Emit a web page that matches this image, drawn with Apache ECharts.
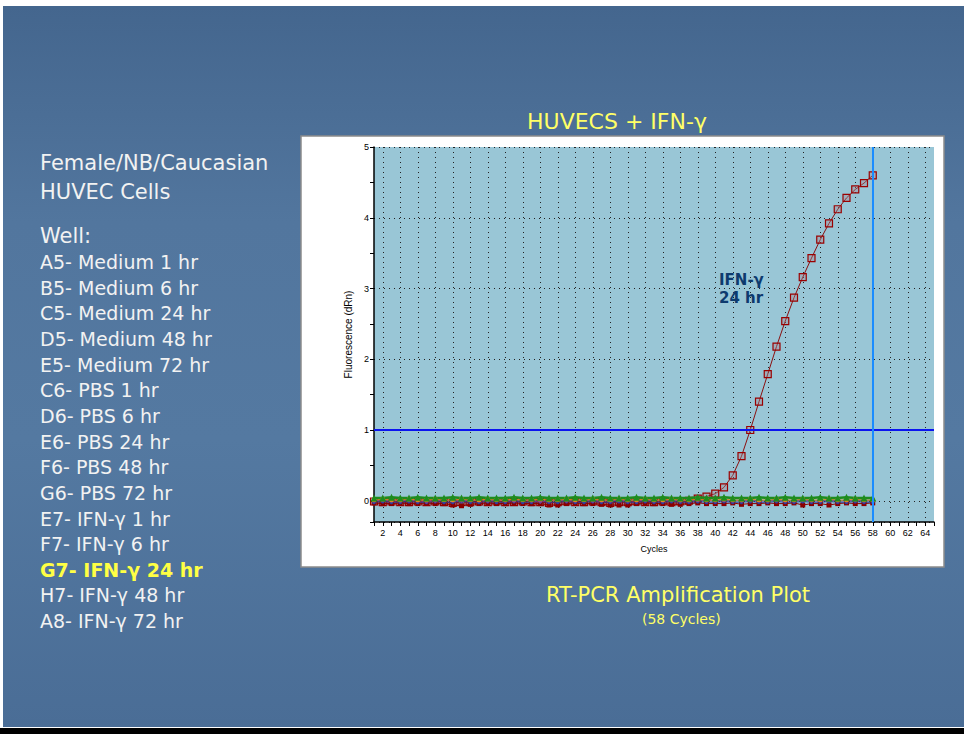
<!DOCTYPE html>
<html>
<head>
<meta charset="utf-8">
<script src="https://cdn.jsdelivr.net/npm/echarts@6/dist/echarts.min.js"></script>
<style>
html,body{margin:0;padding:0;background:#fff;}
#chart{width:964px;height:734px;}
</style>
</head>
<body>
<div id="chart"></div>
<script>
// ---------- data ----------
var cycles = [1,2,3,4,5,6,7,8,9,10,11,12,13,14,15,16,17,18,19,20,21,22,23,24,25,26,27,28,29,30,31,32,33,34,35,36,37,38,39,40,41,42,43,44,45,46,47,48,49,50,51,52,53,54,55,56,57,58];

// G7 - IFN-γ 24 hr (amplifying well)
var g7Values = [
  -0.01,-0.02,-0.01,-0.02,-0.02,-0.01,-0.02,-0.01,-0.02,-0.03,
  -0.02,-0.02,-0.01,-0.02,-0.01,-0.02,-0.02,-0.01,-0.02,-0.02,
  -0.03,-0.02,-0.01,-0.02,-0.02,-0.01,-0.02,-0.03,-0.02,-0.02,
  -0.01,-0.02,-0.02,-0.01,-0.02,-0.01,0.00,0.03,0.06,0.10,
  0.19,0.36,0.63,1.00,1.40,1.79,2.18,2.54,2.87,3.16,
  3.43,3.69,3.92,4.12,4.28,4.40,4.49,4.60
];
// other wells (baseline, no amplification)
var greenValues = [
  0.04,0.04,0.05,0.04,0.04,0.05,0.04,0.04,0.04,0.05,
  0.04,0.04,0.05,0.04,0.04,0.04,0.05,0.04,0.04,0.05,
  0.04,0.04,0.04,0.05,0.04,0.04,0.05,0.04,0.04,0.04,
  0.05,0.04,0.04,0.05,0.04,0.04,0.04,0.05,0.04,0.04,
  0.05,0.04,0.04,0.04,0.05,0.04,0.04,0.05,0.04,0.04,
  0.04,0.05,0.04,0.04,0.05,0.04,0.04,0.04
];
var darkRedValues = [
  -0.03,-0.04,-0.04,-0.03,-0.04,-0.04,-0.03,-0.04,-0.04,-0.06,
  -0.07,-0.05,-0.04,-0.03,-0.04,-0.04,-0.03,-0.04,-0.04,-0.04,
  -0.06,-0.06,-0.04,-0.03,-0.04,-0.04,-0.05,-0.06,-0.06,-0.06,
  -0.04,-0.03,-0.04,-0.04,-0.05,-0.05,-0.04,-0.03,-0.04,-0.04,
  -0.04,-0.03,-0.05,-0.04,-0.04,-0.03,-0.04,-0.04,-0.03,-0.06,
  -0.04,-0.04,-0.06,-0.04,-0.03,-0.04,-0.04,-0.03
];
var purpleValues = [
  0.00,0.01,0.00,0.00,0.01,0.00,-0.01,0.00,0.01,0.00,
  0.00,0.01,0.00,0.00,0.01,0.00,0.00,0.01,0.00,-0.01,
  0.00,0.01,0.00,0.00,0.01,0.00,0.00,0.00,0.01,0.00,
  0.00,0.01,0.00,0.00,0.01,0.00,0.00,0.01,0.00,0.00,
  0.01,0.00,0.00,0.01,0.00,0.00,0.01,0.00,0.00,0.01,
  0.00,0.00,0.01,0.00,0.00,0.01,0.00,0.00
];
var blueValues = [
  -0.02,-0.01,-0.02,-0.02,-0.01,-0.02,-0.02,-0.01,-0.02,-0.02,
  -0.01,-0.02,-0.02,-0.01,-0.02,-0.02,-0.01,-0.02,-0.02,-0.01,
  -0.02,-0.02,-0.01,-0.02,-0.02,-0.01,-0.02,-0.02,-0.01,-0.02,
  -0.02,-0.01,-0.02,-0.02,-0.01,-0.02,-0.02,-0.01,-0.02,-0.02,
  -0.01,-0.02,-0.02,-0.01,-0.02,-0.02,-0.01,-0.02,-0.02,-0.01,
  -0.02,-0.02,-0.01,-0.02,-0.02,-0.01,-0.02,-0.02
];
var orangeValues = [
  0.01,0.02,0.01,0.01,0.02,0.01,0.01,0.02,0.01,0.01,
  0.02,0.01,0.01,0.02,0.01,0.01,0.02,0.01,0.01,0.02,
  0.01,0.01,0.02,0.01,0.01,0.02,0.01,0.01,0.02,0.01,
  0.01,0.02,0.01,0.01,0.02,0.01,0.01,0.02,0.01,0.01,
  0.02,0.01,0.01,0.02,0.01,0.01,0.02,0.01,0.01,0.02,
  0.01,0.01,0.02,0.01,0.01,0.02,0.01,0.01
];
var threshold = 1;
var cutoffCycle = 58;
var xMin = 1, xMax = 65, yMin = -0.3, yMax = 5;

var headerLines = ['Female/NB/Caucasian', 'HUVEC Cells'];
var wellTitle = 'Well:';
var wells = ['A5- Medium 1 hr','B5- Medium 6 hr','C5- Medium 24 hr','D5- Medium 48 hr','E5- Medium 72 hr',
  'C6- PBS 1 hr','D6- PBS 6 hr','E6- PBS 24 hr','F6- PBS 48 hr','G6- PBS 72 hr',
  'E7- IFN-γ 1 hr','F7- IFN-γ 6 hr','G7- IFN-γ 24 hr','H7- IFN-γ 48 hr','A8- IFN-γ 72 hr'];
var highlightWell = 'G7- IFN-γ 24 hr';
var chartTitle = 'HUVECS + IFN-γ';
var subTitle = 'RT-PCR Amplification Plot';
var subTitle2 = '(58 Cycles)';
var annotation = 'IFN-γ\n24 hr';
var yName = 'Fluorescence (dRn)';
var xName = 'Cycles';

// ---------- chart ----------
function pairs(vals){ return cycles.map(function(c,i){ return [c, vals[i]]; }); }

var FONT = '"DejaVu Sans", Verdana, sans-serif';
var AXFONT = '"Liberation Sans", Arial, sans-serif';
var graphics = [
  {type:'rect', z:-10, shape:{x:3,y:6,width:961,height:721},
   style:{fill:{type:'linear',x:0,y:0,x2:0,y2:1,colorStops:[
     {offset:0,color:'#44668e'},{offset:0.3,color:'#52769e'},{offset:0.6,color:'#5479a1'},{offset:1,color:'#4a6d96'}]}}},
  {type:'rect', z:-10, shape:{x:0,y:728,width:964,height:6}, style:{fill:'#000'}},
  {type:'rect', z:-5, shape:{x:301,y:136,width:643,height:431}, style:{fill:'#ffffff', stroke:'#8c8c8c', lineWidth:1.5}},
  {type:'text', z:5, left:40, top:152, style:{text:headerLines[0], fill:'#f2f2f2', font:'21px '+FONT}},
  {type:'text', z:5, left:40, top:181, style:{text:headerLines[1], fill:'#f2f2f2', font:'21px '+FONT}},
  {type:'text', z:5, left:40, top:225, style:{text:wellTitle, fill:'#f2f2f2', font:'21px '+FONT}},
  {type:'text', z:5, left:527, top:110, style:{text:chartTitle, fill:'#ffff66', font:'22px '+FONT}},
  {type:'text', z:5, left:546, top:584, style:{text:subTitle, fill:'#ffff66', font:'21px '+FONT}},
  {type:'text', z:5, left:642, top:612, style:{text:subTitle2, fill:'#ffff66', font:'14px '+FONT}},
  {type:'text', z:50, left:719, top:271, style:{text:annotation, fill:'#0d3a6e', font:'bold 15px '+FONT, lineHeight:18}}
];
wells.forEach(function(w,i){
  var hl = (w === highlightWell);
  graphics.push({type:'text', z:5, left:40, top:252.5 + i*25.65,
    style:{text:w, fill: hl ? '#ffff44' : '#f2f2f2', font:(hl?'bold ':'')+'19px '+FONT}});
});

function baseSeries(name, vals, color, symbol, size, lw){
  return {name:name, type:'line', data:pairs(vals), symbol:symbol, symbolSize:size,
    lineStyle:{color:color, width:lw || 1}, itemStyle:{color:color}, z:3, silent:true};
}

var option = {
  animation:false,
  graphic: graphics,
  grid:{left:374, top:147, right:30, bottom:212, show:true, backgroundColor:'#99c6d6', borderWidth:0},
  xAxis:{type:'value', min:xMin, max:xMax, interval:1,
    name:xName, nameLocation:'middle', nameGap:22,
    nameTextStyle:{fontFamily:AXFONT, fontSize:9, color:'#000'},
    axisLine:{onZero:false, lineStyle:{color:'#000', width:1.5}},
    axisTick:{length:4, lineStyle:{color:'#000'}},
    axisLabel:{fontFamily:AXFONT, fontSize:9, color:'#000', margin:6,
      formatter:function(v){ return (v % 2 === 0) ? String(v) : ''; }},
    splitLine:{show:true, lineStyle:{color:['rgba(0,0,0,0)','#222'], type:[1,4], width:1}}
  },
  yAxis:{type:'value', min:yMin, max:yMax, splitNumber:5,
    name:yName, nameLocation:'middle', nameGap:20, nameRotate:90,
    nameTextStyle:{fontFamily:AXFONT, fontSize:10, color:'#000'},
    axisLine:{show:true, lineStyle:{color:'#000', width:1.5}},
    axisTick:{show:true, length:4, lineStyle:{color:'#000'}},
    minorTick:{show:true, splitNumber:2, length:4, lineStyle:{color:'#000'}},
    axisLabel:{fontFamily:AXFONT, fontSize:9, color:'#000', margin:5,
      formatter:function(v){ return (v >= 0 && Math.abs(v - Math.round(v)) < 1e-9) ? String(Math.round(v)) : ''; }},
    splitLine:{show:true, lineStyle:{color:'#222', type:[1,4], width:1}}
  },
  series:[
    {name:'G7', type:'line', data:pairs(g7Values), symbol:'rect', symbolSize:7, z:2,
      lineStyle:{color:'#8b1010', width:1},
      itemStyle:{color:'rgba(170,130,140,0.35)', borderColor:'#9a0000', borderWidth:1.2},
      markLine:{silent:true, symbol:'none', label:{show:false}, z:4,
        data:[
          {yAxis:threshold, lineStyle:{color:'#0a14f0', width:2, type:'solid'}},
          {xAxis:cutoffCycle, lineStyle:{color:'#1a8cff', width:2, type:'solid'}}
        ]}
    },
    baseSeries('other-darkred', darkRedValues, '#8b0000', 'rect', 5),
    baseSeries('other-blue', blueValues, '#2a3fa0', 'circle', 4),
    baseSeries('other-purple', purpleValues, '#7b3f8f', 'diamond', 5),
    baseSeries('other-orange', orangeValues, '#d98a1c', 'rect', 4),
    baseSeries('other-green', greenValues, '#1e8c1e', 'triangle', 7, 2.5)
  ]
};

var chart = echarts.init(document.getElementById('chart'), null, {renderer:'svg', width:964, height:734});
chart.setOption(option);
</script>
</body>
</html>
